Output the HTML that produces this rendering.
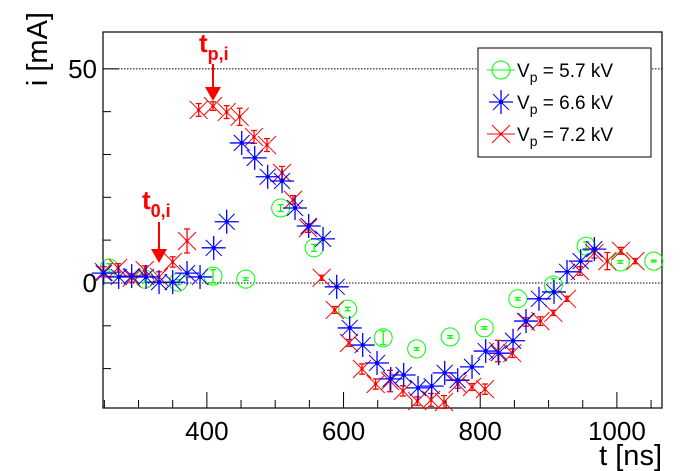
<!DOCTYPE html>
<html><head><meta charset="utf-8"><style>
body{margin:0;background:#fff;}
svg{display:block;font-family:"Liberation Sans",Arial,sans-serif;}
</style></head><body>
<svg id="chart" width="698" height="471" viewBox="0 0 698 471" xmlns="http://www.w3.org/2000/svg">
<rect width="698" height="471" fill="#fff"/>
<g id="grid"></g>
<g id="axes"></g>
<g id="marks"></g>
<g id="annot"></g>
<g id="legend"></g>
</svg>
<script>
const xTicksMajor=[400,600,800,1000];
const yTicksMajor=[0,50];
const tGreen=[257,309,358,409,457,508,557,606,658,707,756,806,855,907,955,1005,1054];
const iGreen=[3.5,0.9,0.2,1.6,0.9,17.5,8.2,-6.1,-12.8,-15.4,-12.6,-10.5,-3.7,-0.5,8.6,4.9,5.1];
const tBlue=[249,271,290,311,330,350,371,390,410,429,451,470,489,510,529,549,570,590,609,628,649,669,688,709,729,748,767,788,808,827,848,867,886,908,927,947,967];
const iBlue=[2.3,1.4,1.6,1.4,0.2,0.2,2.3,1.4,8.2,14.3,32.7,29.2,24.8,23.8,17.5,13.3,10.3,-0.9,-10.5,-14.5,-18.7,-22.4,-21.5,-24.5,-24.1,-21.0,-22.7,-19.6,-15.9,-16.4,-13.5,-8.9,-3.7,-2.1,2.6,5.1,7.9];
const tRed=[249,270,290,309,330,350,371,388,409,429,448,469,488,510,526,548,568,587,608,627,647,668,687,708,728,747,767,788,807,826,847,867,888,907,927,946,967,986,1006,1027];
const iRed=[2.6,3.5,1.2,3.0,1.4,4.9,9.8,40.4,41.3,39.9,38.8,34.1,32.2,25.7,19.4,12.8,1.2,-6.3,-14.0,-20.1,-23.6,-22.9,-25.2,-27.6,-27.3,-27.8,-23.6,-24.3,-24.8,-15.9,-16.4,-9.1,-8.9,-7.0,-3.7,2.8,7.0,5.1,7.5,5.1];
const eRed=[1.2,1.0,1.0,1.0,1.2,1.2,2.8,1.5,1.0,1.5,2.0,1.5,1.5,1.5,1.0,1.0,0.6,0.8,0.8,1.2,1.2,2.5,1.2,1.0,1.5,1.5,1.0,0.8,1.2,2.5,1.0,1.0,1.0,0.6,0.6,1.0,1.2,2.0,0.8,0.6];
const eGreen=[1.0,0.8,0.6,1.5,0.3,0.8,0.8,0.4,1.6,0.3,0.3,0.3,0.3,1.5,1.0,0.3,0.2];

const L=103,R=662,T=32,B=408;
const X0=248,X1=1066,Y0=-29.2,Y1=58.6;
function xs(t){return L+(t-X0)/(X1-X0)*(R-L);}
function ys(v){return B-(v-Y0)/(Y1-Y0)*(B-T);}
const NS="http://www.w3.org/2000/svg";
function mk(tag,attrs,parent){const e=document.createElementNS(NS,tag);for(const k in attrs)e.setAttribute(k,attrs[k]);parent.appendChild(e);return e;}
const grid=document.getElementById('grid'),axes=document.getElementById('axes'),marks=document.getElementById('marks'),annot=document.getElementById('annot'),legend=document.getElementById('legend');

yTicksMajor.forEach(v=>{
  const g=mk('line',{x1:L,x2:R,y1:ys(v),y2:ys(v),stroke:'#000','stroke-width':1,'stroke-dasharray':'1.5,1.5'},grid);
  
  
});
const frame=mk('rect',{x:L,y:T,width:R-L,height:B-T,fill:'none',stroke:'#000','stroke-width':1.2},axes);


for(let t=250;t<=1050;t+=50){
  const big=(t%200===0);
  const tk=mk('line',{x1:xs(t),x2:xs(t),y1:B,y2:B-(big?16:8),stroke:'#000','stroke-width':1},axes);
  
  
}
for(let v=-20;v<=50;v+=10){
  const big=(v%50===0);
  const tk=mk('line',{x1:L,x2:L+(big?16:8),y1:ys(v),y2:ys(v),stroke:'#000','stroke-width':1},axes);
  
  
}
xTicksMajor.forEach(t=>{
  const tx=mk('text',{x:xs(t),y:440,'font-size':26,'text-anchor':'middle',fill:'#000'},axes);
  tx.textContent=t;
  
  
});
yTicksMajor.forEach(v=>{
  const tx=mk('text',{x:97,y:ys(v)+9,'font-size':26,'text-anchor':'end',fill:'#000'},axes);
  tx.textContent=v;
  
  
});
const xt=mk('text',{x:662,y:465,'font-size':29,'text-anchor':'end',fill:'#000'},axes);
xt.textContent='t [ns]';


const yt=mk('text',{x:0,y:0,'font-size':29,'text-anchor':'end',fill:'#000',transform:'translate(47,12) rotate(-90)'},axes);
yt.textContent='i [mA]';



function errbar(g,x,y,e,col){
  const y1=ys(0)-ys(e);
  mk('line',{x1:x,x2:x,y1:y-y1,y2:y+y1,stroke:col,'stroke-width':1.3},g);
  mk('line',{x1:x-3,x2:x+3,y1:y-y1,y2:y-y1,stroke:col,'stroke-width':1.3},g);
  mk('line',{x1:x-3,x2:x+3,y1:y+y1,y2:y+y1,stroke:col,'stroke-width':1.3},g);
}
function circle(g,x,y){mk('circle',{cx:x,cy:y,r:9,fill:'none',stroke:'#0f0','stroke-width':1},g);}
function star(g,x,y){
  const c='#00f';
  mk('line',{x1:x-12,x2:x+12,y1:y,y2:y,stroke:c,'stroke-width':1.3},g);
  mk('line',{x1:x,x2:x,y1:y-12,y2:y+12,stroke:c,'stroke-width':1.3},g);
  mk('line',{x1:x-8,x2:x+8,y1:y-8,y2:y+8,stroke:c,'stroke-width':1},g);
  mk('line',{x1:x-8,x2:x+8,y1:y+8,y2:y-8,stroke:c,'stroke-width':1},g);
  mk('circle',{cx:x,cy:y,r:2,fill:c},g);
}
function cross(g,x,y){
  const c='#f00';
  mk('line',{x1:x-9,x2:x+9,y1:y-9,y2:y+9,stroke:c,'stroke-width':1},g);
  mk('line',{x1:x-9,x2:x+9,y1:y+9,y2:y-9,stroke:c,'stroke-width':1},g);
  mk('circle',{cx:x,cy:y,r:1.6,fill:c},g);
}
tGreen.forEach((t,k)=>{
  const g=mk('g',{},marks);
  
  
  circle(g,xs(t),ys(iGreen[k]));
  const e=ys(0)-ys(eGreen[k]);
  mk('line',{x1:xs(t),x2:xs(t),y1:ys(iGreen[k])-e,y2:ys(iGreen[k])+e,stroke:'#0f0','stroke-width':1.3},g);
  mk('line',{x1:xs(t)-3,x2:xs(t)+3,y1:ys(iGreen[k])-e,y2:ys(iGreen[k])-e,stroke:'#0f0','stroke-width':1.3},g);
  mk('line',{x1:xs(t)-3,x2:xs(t)+3,y1:ys(iGreen[k])+e,y2:ys(iGreen[k])+e,stroke:'#0f0','stroke-width':1.3},g);
});
tRed.forEach((t,k)=>{
  const g=mk('g',{},marks);
  
  
  cross(g,xs(t),ys(iRed[k]));
  errbar(g,xs(t),ys(iRed[k]),eRed[k],'#f00');
});
tBlue.forEach((t,k)=>{
  const g=mk('g',{},marks);
  
  
  star(g,xs(t),ys(iBlue[k]));
});

function arrow(name,x,y1,y2){
  const g=mk('g',{},annot);
  
  
  mk('line',{x1:x,x2:x,y1:y1,y2:y2-12,stroke:'#f00','stroke-width':2},g);
  mk('polygon',{points:`${x-8},${y2-14} ${x+8},${y2-14} ${x},${y2}`,fill:'#f00'},g);
}
const tp=mk('text',{x:199,y:52,'font-size':26,'font-weight':'bold',fill:'#f00'},annot);
tp.innerHTML='t<tspan font-size="18" dy="8">p,i</tspan>';


arrow('tp-arrow',213,64,101);
const t0=mk('text',{x:142,y:209,'font-size':26,'font-weight':'bold',fill:'#f00'},annot);
t0.innerHTML='t<tspan font-size="18" dy="8">0,i</tspan>';


arrow('t0-arrow',159,222,263);

const lb=mk('rect',{x:478,y:48,width:173,height:109,fill:'#fff',stroke:'#000','stroke-width':1},legend);


const labels=[['5.7','legend-entry-5p7kv'],['6.6','legend-entry-6p6kv'],['7.2','legend-entry-7p2kv']];
labels.forEach((l,k)=>{
  const y=70+k*32;
  const g=mk('g',{},legend);
  
  
  if(k===0){circle(g,501,y);mk('line',{x1:487,x2:515,y1:y,y2:y,stroke:'#0f0','stroke-width':1},g);}
  if(k===1)star(g,501,y);
  if(k===2){cross(g,501,y);mk('line',{x1:487,x2:515,y1:y,y2:y,stroke:'#f00','stroke-width':1},g);}
  const tx=mk('text',{x:517,y:y+7,'font-size':19,fill:'#000'},g);
  tx.innerHTML='V<tspan font-size="14" dy="5">p</tspan><tspan dy="-5"> = '+l[0]+' kV</tspan>';
});
</script>
</body></html>
